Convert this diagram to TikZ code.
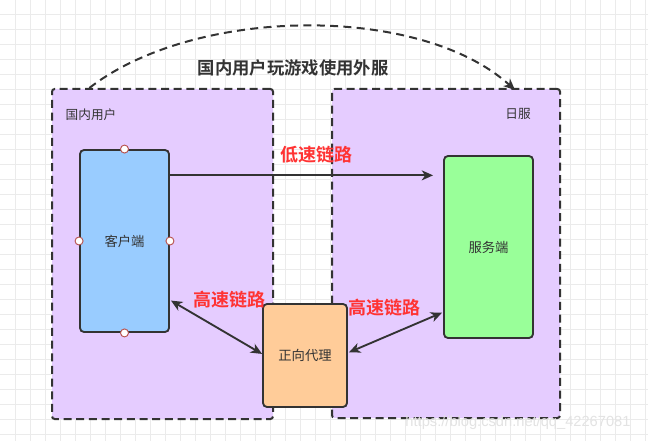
\documentclass[tikz,border=0pt]{standalone}
\usepackage{fontspec}
\setmainfont{Noto Sans CJK SC}
\newfontfamily\cjkbold{Noto Sans CJK SC Bold}
\newfontfamily\wmfont{Liberation Sans}
\usetikzlibrary{arrows.meta,calc}
\definecolor{strokec}{HTML}{333333}
\definecolor{purplef}{HTML}{E5CCFF}
\definecolor{bluef}{HTML}{99CCFF}
\definecolor{greenf}{HTML}{99FF99}
\definecolor{orangef}{HTML}{FFCC99}
\definecolor{redtxt}{HTML}{FF3333}
\definecolor{gridc}{HTML}{EBEBEB}
\definecolor{portc}{HTML}{B85450}
\tikzset{
  container/.style={draw=strokec, fill=purplef, line width=1.5pt, rounded corners=2pt,
    dash pattern=on 6pt off 3.5pt, inner sep=0pt},
  boxn/.style={draw=strokec, line width=1.4pt, rounded corners=3pt, inner sep=0pt,
    font=\fontsize{10pt}{11pt}\selectfont, text=strokec},
  port/.style={circle, draw=portc, fill=white, line width=0.7pt, minimum size=6pt, inner sep=0pt},
  conn/.style={draw=strokec, line width=1.4pt},
  tipx/.style={-{Stealth[length=8.5pt,width=7.5pt,inset=2.5pt]}},
  tipboth/.style={{Stealth[length=8.5pt,width=7.5pt,inset=2.5pt]}-{Stealth[length=8.5pt,width=7.5pt,inset=2.5pt]}},
  redlbl/.style={text=redtxt, font=\cjkbold\fontsize{13.5pt}{15pt}\selectfont},
  grplbl/.style={text=strokec, font=\fontsize{9.5pt}{11pt}\selectfont},
}
\begin{document}
\begin{tikzpicture}[x=0.75pt,y=-0.75pt]
\useasboundingbox (0,0) rectangle (648,441);
\fill[white] (0,0) rectangle (648,441);
\foreach \i in {15,30,...,645} \draw[gridc, line width=0.6pt] (\i,0) -- (\i,441);
\foreach \j in {14,29,...,440} \draw[gridc, line width=0.6pt] (0,\j) -- (648,\j);

% containers
\node[container, minimum width=165.75pt, minimum height=247.5pt] (lc) at (162.5,254) {};
\node[container, minimum width=171pt, minimum height=246.75pt] (rc) at (446,253.5) {};
\node[grplbl] (lcl) at (91,115) {国内用户};
\node[grplbl] (rcl) at (518,114) {日服};

% title
\node[text=strokec, font=\cjkbold\fontsize{13pt}{15pt}\selectfont] (title) at (293,68) {国内用户玩游戏使用外服};

% boxes
\node[boxn, fill=bluef, minimum width=66.75pt, minimum height=136.5pt] (client) at (124.5,241) {客户端};
\node[boxn, fill=greenf, minimum width=66.75pt, minimum height=136.5pt] (server) at (488.5,247) {服务端};
\node[boxn, fill=orangef, minimum width=63pt, minimum height=77.25pt] (proxy) at (305,355.5) {正向代理};

% ports on client
\node[port] (p1) at (client.north) {};
\node[port] (p2) at (client.south) {};
\node[port] (p3) at (client.west) {};
\node[port] (p4) at (client.east) {};

% connectors
\coordinate (cs) at ($(client.north east)!0.143!(client.south east)$);
\draw[conn, tipx, shorten >=7.5pt] (cs) -- (server.west |- cs);
\node[redlbl] (low) at (316,155) {低速链路};

\draw[conn, tipboth]
  ($(client.north east)!0.824!(client.south east)+(1,0)$) -- ($(proxy.north west)!0.485!(proxy.south west)$);
\draw[conn, tipboth]
  ($(proxy.north east)!0.47!(proxy.south east)+(1,0)$) -- ($(server.north west)!0.857!(server.south west)+(-1,0)$);
\node[redlbl] (hl) at (229,300) {高速链路};
\node[redlbl] (hr) at (384,308) {高速链路};

% dashed arc
\coordinate (as) at ($(lc.north west)!0.172!(lc.north east)$);
\coordinate (ae) at ($(rc.north west)!0.8!(rc.north east)+(0,2)$);
\draw[conn, line width=1.5pt, dash pattern=on 6pt off 4pt, tipx] (as) .. controls (195,6) and (420,4) .. (ae);

% watermark
\node[text=gray!22, font=\wmfont\fontsize{11pt}{13pt}\selectfont] (wm) at (518,423) {https://blog.csdn.net/qq\_42267081};
\end{tikzpicture}
\end{document}
